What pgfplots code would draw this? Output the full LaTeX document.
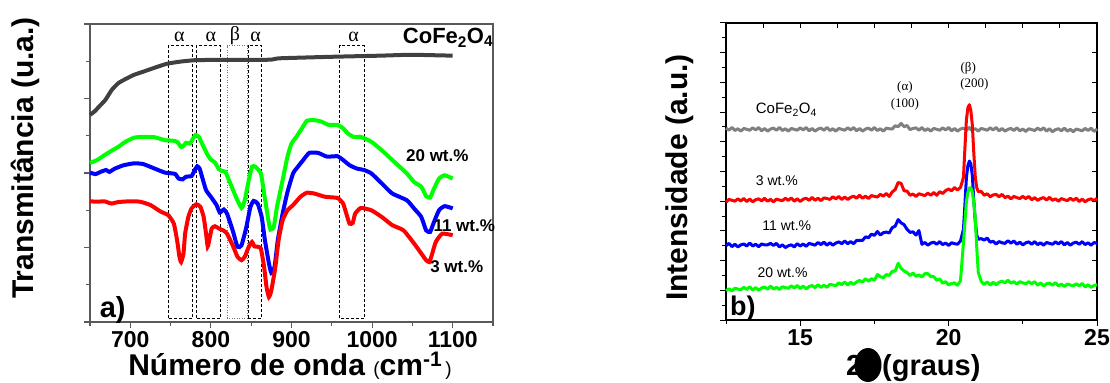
\documentclass[border=0pt]{standalone}
\usepackage{fontspec}
\setmainfont{Liberation Sans}
\newfontfamily\seriffont{Liberation Serif}
\usepackage{pgfplots}
\usepackage{pgfplotstable}
\pgfplotsset{compat=1.18}
\definecolor{ftgray}{HTML}{404040}
\definecolor{xgray}{HTML}{808080}
\definecolor{pgreen}{HTML}{00FF00}
\definecolor{pblue}{HTML}{0000FF}
\definecolor{pred}{HTML}{FF0000}

\pgfplotstableread{
x gray red blue green
12.5 6.46 3.97 2.50 0.99
12.6 6.39 4.06 2.58 1.05
12.7 6.48 4.03 2.47 0.98
12.8 6.38 4.00 2.55 1.07
12.9 6.44 4.08 2.46 1.04
13.0 6.36 4.01 2.53 1.02
13.1 6.45 4.09 2.56 1.10
13.2 6.42 3.99 2.49 1.03
13.3 6.39 4.07 2.59 1.12
13.4 6.47 3.98 2.49 1.01
13.5 6.40 4.05 2.55 1.09
13.6 6.48 4.08 2.47 1.00
13.7 6.37 4.01 2.56 1.08
13.8 6.45 4.10 2.53 1.11
13.9 6.36 4.00 2.53 1.04
14.0 6.43 4.06 2.58 1.14
14.1 6.46 3.98 2.51 1.04
14.2 6.39 4.07 2.58 1.10
14.3 6.48 4.04 2.46 1.03
14.4 6.38 4.02 2.53 1.12
14.5 6.44 4.10 2.44 1.09
14.6 6.36 4.03 2.50 1.07
14.7 6.45 4.11 2.53 1.15
14.8 6.42 4.00 2.46 1.08
14.9 6.39 4.08 2.57 1.16
15.0 6.47 3.99 2.49 1.06
15.1 6.40 4.07 2.56 1.14
15.2 6.48 4.10 2.48 1.05
15.3 6.37 4.03 2.58 1.13
15.4 6.45 4.13 2.55 1.16
15.5 6.36 4.03 2.52 1.09
15.6 6.43 4.10 2.61 1.19
15.7 6.46 4.02 2.54 1.10
15.8 6.39 4.11 2.62 1.17
15.9 6.48 4.09 2.52 1.10
16.0 6.38 4.06 2.60 1.20
16.1 6.44 4.15 2.52 1.18
16.2 6.36 4.08 2.59 1.16
16.3 6.45 4.16 2.63 1.25
16.4 6.42 4.06 2.57 1.19
16.5 6.39 4.14 2.66 1.28
16.6 6.47 4.06 2.57 1.18
16.7 6.40 4.13 2.64 1.27
16.8 6.48 4.17 2.57 1.20
16.9 6.37 4.10 2.68 1.28
17.0 6.45 4.20 2.68 1.33
17.1 6.36 4.10 2.68 1.28
17.2 6.43 4.17 2.80 1.39
17.3 6.46 4.09 2.77 1.31
17.4 6.39 4.19 2.89 1.39
17.5 6.48 4.16 2.85 1.34
17.6 6.38 4.14 2.98 1.53
17.7 6.44 4.23 2.86 1.46
17.8 6.36 4.17 2.94 1.42
17.9 6.46 4.26 2.96 1.53
18.0 6.44 4.16 2.93 1.50
18.1 6.43 4.31 3.11 1.64
18.2 6.54 4.39 3.16 1.65
18.3 6.51 4.63 3.38 1.91
18.4 6.62 4.60 3.27 1.74
18.5 6.51 4.35 3.21 1.65
18.6 6.55 4.34 3.05 1.60
18.7 6.41 4.20 2.95 1.50
18.8 6.45 4.24 2.97 1.58
18.9 6.47 4.16 2.86 1.47
19.0 6.39 4.25 3.01 1.52
19.1 6.48 4.22 2.55 1.45
19.2 6.38 4.19 2.61 1.56
19.3 6.44 4.27 2.52 1.56
19.4 6.36 4.20 2.59 1.46
19.5 6.45 4.29 2.62 1.46
19.6 6.42 4.20 2.55 1.34
19.7 6.39 4.32 2.64 1.38
19.8 6.47 4.26 2.54 1.24
19.9 6.40 4.36 2.59 1.29
20.0 6.48 4.41 2.51 1.18
20.1 6.37 4.35 2.60 1.23
20.2 6.45 4.46 2.57 1.25
20.3 6.36 4.38 2.55 1.17
20.4 6.43 4.46 2.66 1.32
20.5 6.46 4.80 3.05 2.60
20.55 6.42 5.80 3.90 3.30
20.6 6.39 6.75 4.80 4.00
20.65 6.44 7.15 5.20 4.30
20.7 6.48 7.25 5.35 4.45
20.75 6.41 7.05 5.25 4.45
20.8 6.38 6.55 4.85 4.30
20.85 6.43 5.60 4.00 3.95
20.9 6.44 4.80 3.30 3.40
20.95 6.40 4.45 2.85 2.40
21.0 6.36 4.32 2.72 1.60
21.1 6.45 4.33 2.74 1.30
21.2 6.42 4.20 2.69 1.20
21.3 6.39 4.25 2.76 1.28
21.4 6.47 4.15 2.62 1.18
21.5 6.40 4.21 2.65 1.27
21.6 6.48 4.23 2.56 1.19
21.7 6.37 4.15 2.64 1.27
21.8 6.45 4.23 2.60 1.31
21.9 6.36 4.12 2.58 1.25
22.0 6.42 4.17 2.67 1.34
22.1 6.45 4.08 2.59 1.24
22.2 6.38 4.16 2.66 1.29
22.3 6.47 4.12 2.55 1.21
22.4 6.37 4.09 2.62 1.29
22.5 6.43 4.16 2.53 1.25
22.6 6.35 4.09 2.60 1.22
22.7 6.44 4.16 2.63 1.29
22.8 6.41 4.05 2.55 1.22
22.9 6.38 4.12 2.64 1.29
23.0 6.46 4.03 2.54 1.17
23.1 6.39 4.09 2.60 1.25
23.2 6.47 4.12 2.52 1.15
23.3 6.36 4.04 2.61 1.22
23.4 6.44 4.13 2.58 1.24
23.5 6.34 4.03 2.55 1.17
23.6 6.41 4.08 2.63 1.26
23.7 6.44 4.00 2.56 1.15
23.8 6.37 4.09 2.64 1.21
23.9 6.46 4.05 2.53 1.13
24.0 6.36 4.02 2.61 1.21
24.1 6.42 4.10 2.52 1.18
24.2 6.34 4.03 2.59 1.15
24.3 6.43 4.10 2.62 1.22
24.4 6.40 3.99 2.55 1.15
24.5 6.37 4.07 2.64 1.23
24.6 6.45 3.98 2.54 1.11
24.7 6.38 4.05 2.60 1.19
24.8 6.46 4.08 2.52 1.10
24.9 6.35 4.01 2.61 1.16
25.0 6.43 4.10 2.58 1.19
}\xrd

\pgfplotstableread{
x y
650 5.56
656 5.66
662 5.80
669 5.96
677 6.23
685 6.41
693 6.51
704 6.63
716 6.72
728 6.81
745 6.93
762 6.99
782 7.03
830 7.04
870 7.04
877 7.05
886 7.08
950 7.12
1010 7.15
1040 7.17
1060 7.17
1080 7.16
1100 7.15
}\ftcofe

\pgfplotstableread{
x y
650 4.27
659 4.35
668 4.48
677 4.60
685 4.70
694 4.84
705 4.95
716 4.97
730 4.96
743 4.88
752 4.87
758 4.84
763 4.70
766 4.73
769 4.81
774 4.79
778 4.93
781 5.02
785 4.97
789 4.79
796 4.48
800 4.36
805 4.28
810 4.10
813 4.06
818 4.03
822 3.83
831 3.36
838 3.06
842 3.27
847 3.81
851 4.17
855 4.17
862 3.99
866 3.45
872 2.64
874 2.48
878 2.55
882 3.09
889 3.81
895 4.44
900 4.79
906 4.97
913 5.20
919 5.40
928 5.42
937 5.38
946 5.29
957 5.29
964 5.20
970 5.06
977 4.97
986 4.97
999 4.84
1012 4.61
1025 4.35
1043 3.99
1052 3.76
1061 3.63
1067 3.38
1072 3.34
1076 3.54
1083 3.85
1090 3.94
1100 3.85
}\ftgreen

\pgfplotstableread{
x y
650 4.01
657 3.97
663 4.03
670 4.08
674 4.03
681 4.12
692 4.21
705 4.26
716 4.24
730 4.12
743 4.01
752 3.99
756 3.97
760 3.85
765 3.83
769 3.90
776 3.92
780 4.08
783 4.18
786 4.12
789 3.90
794 3.54
800 3.36
807 3.14
811 2.94
816 3.02
820 2.91
827 2.46
833 2.02
838 2.06
844 2.55
849 3.09
853 3.25
858 3.18
863 2.82
867 2.20
872 1.57
875 1.32
879 1.48
883 2.20
889 2.91
895 3.49
902 3.99
908 4.17
915 4.36
922 4.54
933 4.54
944 4.44
957 4.45
964 4.35
972 4.21
981 4.12
990 4.08
999 3.99
1012 3.72
1025 3.45
1043 3.27
1052 3.05
1061 2.82
1067 2.46
1072 2.42
1076 2.64
1083 3.00
1090 3.11
1100 3.05
}\ftblue

\pgfplotstableread{
x y
650 3.24
659 3.23
668 3.24
672 3.21
677 3.18
685 3.22
699 3.24
712 3.23
725 3.14
738 2.96
747 2.87
754 2.64
758 2.20
761 1.75
763 1.61
766 1.84
768 2.37
772 2.82
776 3.05
782 3.16
787 3.09
791 2.82
794 2.37
796 2.03
798 2.20
801 2.51
805 2.57
810 2.51
816 2.45
820 2.37
827 2.06
833 1.75
838 1.66
842 1.75
847 2.02
851 2.15
854 2.03
858 2.02
862 1.97
866 1.48
869 0.94
872 0.67
875 0.85
880 1.48
884 2.20
889 2.73
895 3.00
902 3.14
911 3.36
919 3.47
928 3.45
942 3.36
957 3.33
964 3.18
968 2.91
972 2.64
976 2.66
979 2.91
986 3.06
999 3.00
1012 2.82
1025 2.60
1039 2.46
1052 2.11
1061 1.84
1067 1.66
1071 1.61
1074 1.79
1079 2.15
1087 2.37
1100 2.33
}\ftred

\begin{document}
\begin{tikzpicture}
\useasboundingbox (0,0) rectangle (1110bp,383bp);

% ---------------- left panel: FTIR ----------------
\begin{axis}[
  at={(90bp,61bp)}, anchor=south west,
  scale only axis, width=403bp, height=298bp,
  xmin=650, xmax=1150, ymin=0, ymax=8,
  xtick={700,800,900,1000,1100},
  minor xtick={650,750,850,950,1050,1150},
  ytick={0,2,4,6,8}, minor ytick={1,3,5,7},
  yticklabels={},
  tick align=outside, xtick pos=bottom, ytick pos=left,
  major tick length=6bp, minor tick length=4bp,
  tick style={draw=black!65, line width=1.1bp},
  axis line style={draw=black!65, line width=1.3bp},
  ticklabel style={font=\fontsize{23bp}{27bp}\selectfont\bfseries},
  /pgf/number format/assume math mode=true,
  /pgf/number format/1000 sep={},
  clip=false,
]
\draw[black, line width=0.8bp, dash pattern=on 3bp off 2bp] (axis cs:747,0.1) rectangle (axis cs:777,7.42);
\draw[black, line width=0.8bp, dash pattern=on 3bp off 2bp] (axis cs:782,0.1) rectangle (axis cs:812,7.42);
\draw[black!55, line width=0.8bp, dash pattern=on 1bp off 1.5bp] (axis cs:820,0.1) rectangle (axis cs:845,7.42);
\draw[black, line width=0.8bp, dash pattern=on 3bp off 2bp] (axis cs:846,0.1) rectangle (axis cs:863,7.42);
\draw[black, line width=0.8bp, dash pattern=on 3bp off 2bp] (axis cs:960,0.1) rectangle (axis cs:990,7.42);

\addplot[ftgray, line width=4bp, smooth, tension=0.3] table {\ftcofe};
\addplot[pgreen, line width=4bp, smooth, tension=0.3] table {\ftgreen};
\addplot[pblue, line width=4bp, smooth, tension=0.3] table {\ftblue};
\addplot[pred, line width=4bp, smooth, tension=0.3] table {\ftred};

\node[font=\seriffont\fontsize{20bp}{22bp}\selectfont] at (axis cs:761,7.66) {α};
\node[font=\seriffont\fontsize{20bp}{22bp}\selectfont] at (axis cs:800,7.66) {α};
\node[font=\seriffont\fontsize{20bp}{22bp}\selectfont] at (axis cs:830,7.68) {β};
\node[font=\seriffont\fontsize{20bp}{22bp}\selectfont] at (axis cs:855.5,7.66) {α};
\node[font=\seriffont\fontsize{20bp}{22bp}\selectfont] at (axis cs:977,7.66) {α};

\node[anchor=base west, inner sep=0pt, font=\fontsize{22bp}{25bp}\selectfont\bfseries] at (axis cs:1038,7.48) {CoFe\textsubscript{2}O\textsubscript{4}};
\node[anchor=base west, inner sep=0pt, font=\fontsize{17bp}{20bp}\selectfont\bfseries] at (axis cs:1042,4.32) {20 wt.\%};
\node[anchor=base west, inner sep=0pt, font=\fontsize{17bp}{20bp}\selectfont\bfseries] at (axis cs:1076,2.44) {11 wt.\%};
\node[anchor=base west, inner sep=0pt, font=\fontsize{17bp}{20bp}\selectfont\bfseries] at (axis cs:1072,1.33) {3 wt.\%};
\node[anchor=base west, inner sep=0pt, font=\fontsize{29bp}{32bp}\selectfont\bfseries] at (axis cs:662,0.126) {a)};
\end{axis}

% ---------------- right panel: XRD ----------------
\begin{axis}[
  at={(726bp,63bp)}, anchor=south west,
  scale only axis, width=371bp, height=297bp,
  xmin=12.5, xmax=25, ymin=0, ymax=10,
  xtick={15,20,25}, minor xtick={12.5,17.5,22.5},
  ytick={0,1,...,10}, minor ytick={0.5,1.5,...,9.5},
  yticklabels={},
  tick align=outside, xtick pos=bottom, ytick pos=left,
  major tick length=6bp, minor tick length=4bp,
  tick style={draw=black, line width=1bp},
  axis line style={draw=black, line width=1.2bp},
  ticklabel style={font=\fontsize{23bp}{27bp}\selectfont\bfseries},
  /pgf/number format/assume math mode=true,
  clip=false,
]
\addplot[xgray, line width=3bp, line join=round] table[x=x,y=gray] {\xrd};
\addplot[pred, line width=3bp, line join=round] table[x=x,y=red] {\xrd};
\addplot[pblue, line width=3bp, line join=round] table[x=x,y=blue] {\xrd};
\addplot[pgreen, line width=3bp, line join=round] table[x=x,y=green] {\xrd};

\node[anchor=base west, inner sep=0pt, font=\fontsize{15bp}{18bp}\selectfont] at (axis cs:13.5,6.94) {CoFe\textsubscript{2}O\textsubscript{4}};
\node[anchor=base west, inner sep=0pt, font=\fontsize{14bp}{17bp}\selectfont] at (axis cs:13.5,4.52) {3 wt.\%};
\node[anchor=base west, inner sep=0pt, font=\fontsize{14bp}{17bp}\selectfont] at (axis cs:13.72,3.0) {11 wt.\%};
\node[anchor=base west, inner sep=0pt, font=\fontsize{14bp}{17bp}\selectfont] at (axis cs:13.56,1.43) {20 wt.\%};
\node[anchor=base, inner sep=0pt, font=\seriffont\fontsize{13bp}{15bp}\selectfont] at (axis cs:18.53,7.73) {(α)};
\node[anchor=base, inner sep=0pt, font=\seriffont\fontsize{13bp}{15bp}\selectfont] at (axis cs:18.53,7.17) {(100)};
\node[anchor=base, inner sep=0pt, font=\seriffont\fontsize{13bp}{15bp}\selectfont] at (axis cs:20.66,8.37) {(β)};
\node[anchor=base, inner sep=0pt, font=\seriffont\fontsize{13bp}{15bp}\selectfont] at (axis cs:20.87,7.84) {(200)};
\node[anchor=base west, inner sep=0pt, font=\fontsize{27bp}{30bp}\selectfont\bfseries] at (axis cs:12.63,0.135) {b)};
\end{axis}

\begin{axis}[
  at={(726bp,63bp)}, anchor=south west,
  scale only axis, width=371bp, height=297bp,
  xmin=12.5, xmax=25, ymin=0, ymax=10,
  xtick={12.5,13.75,...,25}, ytick={1,2,...,9},
  xticklabels={}, yticklabels={},
  tick align=inside, xtick pos=top, ytick pos=right,
  major tick length=5bp,
  tick style={draw=black, line width=1bp},
  axis line style={draw=none},
]
\addplot[draw=none] coordinates {(13,1)};
\end{axis}

% ---------------- axis titles ----------------
\node[rotate=90, inner sep=0pt, font=\fontsize{30bp}{34bp}\selectfont\bfseries] at (25bp,225bp) {Transmitância (u.a.)};
\node[anchor=base, inner sep=0pt, font=\fontsize{30bp}{33bp}\selectfont\bfseries] at (290bp,8bp)
  {Número de onda {\fontsize{19bp}{21bp}\selectfont\mdseries(}cm\textsuperscript{-1}{\fontsize{19bp}{21bp}\selectfont\mdseries\,)}};
\node[rotate=90, inner sep=0pt, font=\fontsize{30bp}{34bp}\selectfont\bfseries] at (680bp,205.5bp) {Intensidade (a.u.)};
\node[anchor=base west, inner sep=0pt, font=\fontsize{29bp}{32bp}\selectfont\bfseries] at (846bp,8bp) {2};
\fill[black] (868bp,18bp) ellipse (13.5bp and 17bp);
\node[anchor=base west, inner sep=0pt, font=\fontsize{29bp}{32bp}\selectfont\bfseries] at (882bp,8bp) {(graus)};
\end{tikzpicture}
\end{document}
